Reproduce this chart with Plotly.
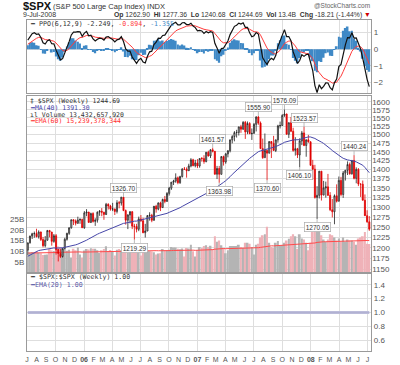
import numpy as np
import pandas as pd
import plotly.graph_objects as go

W, H = 400, 365
X0, X1 = 25, 371
MONO = "DejaVu Sans Mono"
SANS = "Liberation Sans"


def fy(p):
    return 1 - p / H


def fx(p):
    return p / W


# ---------------- data (weekly $SPX) ----------------
# warm-up weeks (Sep 2004 - Jul 1 2005) used only to seed the indicators
warm_close = [1113.63, 1123.92, 1128.55, 1110.11, 1131.50, 1122.14, 1108.20, 1095.74, 1130.20, 1166.17,
              1184.17, 1170.34, 1182.65, 1191.17, 1188.00, 1194.20, 1210.13, 1211.92, 1186.19, 1184.52,
              1167.87, 1171.36, 1203.03, 1205.30, 1201.59, 1211.37, 1222.12, 1200.08, 1189.65, 1171.42,
              1172.92, 1181.20, 1142.62, 1152.12, 1156.85, 1178.84, 1154.05, 1189.28, 1198.78, 1196.02,
              1198.11, 1216.96, 1191.57, 1194.44]
warm_vol = [8.0, 8.5, 8.7, 8.2, 9.0, 8.6, 9.0, 9.2, 9.3, 10.0, 9.8, 9.2, 7.4, 9.6, 9.4, 9.9, 7.9, 6.8, 8.9, 9.2,
            9.4, 9.3, 9.9, 9.4, 9.2, 9.6, 10.0, 9.6, 9.8, 8.4, 9.9, 9.7, 10.4, 10.2, 9.9, 10.3, 10.0, 10.1,
            8.4, 9.9, 9.8, 10.9, 10.9, 8.4]

close = [
    # 2005
    1211.86, 1227.92, 1233.68, 1234.18, 1226.42, 1237.81, 1219.71, 1205.10, 1218.02, 1241.48,
    1237.91, 1215.29, 1228.81, 1195.90, 1186.57, 1179.59, 1198.41, 1220.14, 1234.72, 1248.27,
    1268.25, 1265.08, 1259.37, 1267.32, 1268.66, 1248.29,
    # 2006
    1285.45, 1287.61, 1261.49, 1283.72, 1264.03, 1266.99, 1287.24, 1289.43, 1287.23, 1281.42,
    1307.25, 1302.95, 1294.83, 1295.50, 1289.12, 1311.28, 1310.61, 1325.76, 1291.24, 1267.03,
    1280.16, 1288.22, 1252.30, 1251.54, 1244.50, 1270.20, 1265.48, 1236.20, 1240.29, 1278.55,
    1279.36, 1266.74, 1302.30, 1295.09, 1311.01, 1298.92, 1319.87, 1314.78, 1335.85, 1349.59,
    1365.62, 1368.60, 1377.34, 1364.30, 1380.90, 1401.20, 1400.95, 1396.71, 1409.84, 1427.09,
    1410.76, 1418.30,
    # 2007
    1409.71, 1430.73, 1430.50, 1422.18, 1448.39, 1438.06, 1455.54, 1451.19, 1387.17, 1402.84,
    1386.95, 1436.11, 1420.86, 1443.76, 1452.85, 1484.35, 1494.07, 1505.62, 1505.85, 1522.75,
    1515.73, 1536.34, 1507.67, 1532.91, 1502.56, 1503.35, 1530.44, 1552.50, 1534.10, 1458.95,
    1433.06, 1453.64, 1445.94, 1479.37, 1473.99, 1453.55, 1484.25, 1525.75, 1526.75, 1557.59,
    1561.80, 1500.63, 1535.28, 1509.65, 1453.70, 1458.74, 1440.70, 1481.14, 1504.66, 1467.95,
    1484.46, 1478.49,
    # 2008
    1411.63, 1401.02, 1325.19, 1330.61, 1395.42, 1331.29, 1349.99, 1353.11, 1330.63, 1293.37,
    1288.14, 1329.51, 1315.22, 1370.40, 1332.83, 1390.33, 1397.84, 1413.90, 1388.28, 1425.35,
    1375.93, 1400.38, 1360.68, 1360.03, 1317.93, 1278.38, 1262.90, 1244.69]

high = [
    1212, 1229, 1236, 1239, 1245.86, 1242, 1239, 1226, 1228, 1243, 1243, 1238, 1233, 1233, 1197, 1197,
    1200, 1224, 1236, 1249, 1268.5, 1269, 1269, 1275.8, 1272, 1271,
    1290, 1294.9, 1287.8, 1286, 1287, 1272, 1289, 1292.7, 1297.6, 1288, 1310.9, 1310, 1306, 1311, 1296,
    1318, 1316, 1326.5, 1326.70, 1294, 1282, 1290, 1290, 1258, 1258, 1276, 1280, 1273, 1258, 1280, 1287,
    1283, 1303, 1306, 1312, 1314, 1322, 1329, 1339, 1353, 1366, 1372, 1389.5, 1381, 1383, 1403.8, 1407,
    1406, 1416, 1431.8, 1430, 1427,
    1429, 1431, 1435, 1440, 1449.3, 1453, 1456.9, 1461.57, 1452, 1410, 1410, 1437.8, 1438.9, 1446, 1454,
    1484.8, 1498, 1510, 1513.8, 1523, 1529, 1540, 1540.6, 1539, 1537, 1518, 1534, 1555.1, 1555.90, 1539,
    1488, 1503, 1456, 1480, 1481, 1496, 1485, 1529, 1538.7, 1561, 1576.09, 1563, 1536, 1552.8, 1520,
    1492, 1461, 1488.9, 1510.6, 1523.57, 1485, 1498.9,
    1480, 1427, 1413, 1355, 1396, 1396, 1369, 1367, 1388, 1339, 1321, 1333, 1359.7, 1380.9, 1380,
    1395.9, 1399, 1422.7, 1419.3, 1426, 1440.24, 1406, 1404, 1362, 1370, 1333, 1292, 1277.36]

low = [
    1183.55, 1210, 1221, 1224, 1225, 1222, 1216, 1201, 1201, 1217, 1225, 1205, 1212, 1184, 1168.2, 1176,
    1177, 1196, 1217, 1231, 1246, 1255, 1254, 1258, 1258, 1248,
    1245.7, 1277, 1261, 1260, 1261, 1253, 1261, 1278, 1277, 1268, 1280, 1294, 1291, 1290, 1280, 1284,
    1297, 1304, 1290, 1256, 1245, 1259, 1245, 1219.29, 1237, 1240, 1263, 1235, 1224.5, 1240, 1266, 1262,
    1266, 1286, 1292, 1290, 1298, 1310, 1314, 1330, 1345, 1358, 1364, 1360, 1361, 1378, 1399, 1377.8,
    1396, 1406, 1409, 1406,
    1403.97, 1405, 1422, 1416, 1420, 1436, 1432, 1448, 1386, 1374, 1363.98, 1386, 1411, 1416, 1434,
    1448, 1474, 1480, 1491, 1497, 1505, 1514, 1487, 1501, 1501, 1484, 1503, 1509, 1529, 1458, 1430,
    1433, 1370.60, 1445, 1432, 1453, 1449, 1476, 1518, 1526, 1553, 1500, 1489.6, 1507, 1450, 1439,
    1432, 1406.10, 1469, 1466, 1435.7, 1476,
    1411, 1373, 1322, 1270.05, 1322.4, 1317, 1331, 1324.6, 1329, 1290, 1274, 1256.98, 1312, 1315, 1328,
    1324, 1370, 1385, 1386, 1386, 1373, 1362.5, 1355, 1326.4, 1317, 1278, 1260.7, 1240.68]

# weekly volume, billions
volume = [
    8.6, 9.4, 9.6, 9.5, 9.8, 9.3, 9.0, 8.2, 8.3, 8.4, 11.0, 10.3, 10.1, 11.5, 12.2, 12.0, 11.3, 10.9,
    10.2, 10.7, 7.0, 11.1, 10.5, 11.8, 8.5, 7.0,
    10.3, 11.0, 10.8, 11.4, 11.2, 11.1, 10.4, 9.2, 10.5, 11.0, 12.3, 10.1, 10.6, 9.7, 8.0, 10.7, 11.0,
    10.5, 12.1, 12.6, 9.5, 10.3, 12.0, 13.0, 11.5, 11.3, 8.0, 11.3, 12.0, 10.5, 10.0, 9.9, 9.5, 8.5,
    8.9, 9.0, 11.0, 10.5, 10.5, 10.7, 12.0, 11.7, 11.8, 11.1, 10.9, 11.3, 7.5, 11.5, 11.3, 13.0, 10.0, 7.5,
    10.5, 12.0, 11.5, 12.5, 12.8, 12.0, 12.6, 11.0, 17.0, 14.5, 15.0, 12.8, 11.5, 9.0, 10.5, 12.5, 12.5,
    12.5, 12.5, 13.0, 12.0, 11.5, 14.0, 14.0, 13.5, 12.0, 8.5, 13.0, 13.5, 16.5, 17.5, 18.0, 21.5, 14.0,
    12.0, 11.5, 14.0, 14.8, 12.5, 12.8, 14.0, 15.0, 15.8, 17.0, 18.0, 17.0, 11.0, 18.0, 16.0, 15.5, 14.0, 10.5,
    14.0, 19.0, 21.0, 22.0, 19.5, 17.5, 15.5, 14.5, 15.5, 18.0, 17.5, 16.5, 15.0, 16.0, 14.5, 16.5, 14.5,
    15.5, 15.0, 15.0, 14.5, 13.0, 16.0, 16.5, 17.0, 19.0, 13.5, 13.43]

peak_vals = [1326.70, 1461.57, 1555.90, 1576.09, 1523.57, 1440.24]
trough_vals = [1219.29, 1363.98, 1370.60, 1406.10, 1270.05]

month_letters = ["J", "A", "S", "O", "N", "D", "<b>06</b>", "F", "M", "A", "M", "J",
                 "J", "A", "S", "O", "N", "D", "<b>07</b>", "F", "M", "A", "M", "J",
                 "J", "A", "S", "O", "N", "D", "<b>08</b>", "F", "M", "A", "M", "J", "J"]
price_ticks = list(range(1150, 1601, 25))
vol_ticks = [5, 10, 15, 20, 25]
ppo_ticks = [1, 0, -1, -2]
ratio_ticks = [0.6, 0.8, 1.0, 1.2, 1.4]

# ---------------- indicators ----------------
n_warm = len(warm_close)
all_close = warm_close + close
all_vol = warm_vol + volume
dates_all = pd.date_range("2004-08-30", periods=len(all_close), freq="7D")
dates = dates_all[n_warm:]
opens = all_close[n_warm - 1:-1]

s = pd.Series(all_close)
ema6 = s.ewm(span=6, adjust=False).mean()
ema12 = s.ewm(span=12, adjust=False).mean()
ppo = (ema6 - ema12) / ema12 * 100
sig = ppo.ewm(span=9, adjust=False).mean()
hist = ppo - sig
ma40 = s.rolling(40).mean()
vema = pd.Series(all_vol).ewm(span=60, adjust=False).mean()

ppo_d = ppo.values[n_warm:]
sig_d = sig.values[n_warm:]
hist_d = hist.values[n_warm:]
ma40_d = ma40.values[n_warm:]
vema_d = vema.values[n_warm:]
ratio = np.array(close) / np.array(close)
ratio_ema = pd.Series(ratio).ewm(span=20, adjust=False).mean().values

vol_colors = ["#b4b4b4" if c >= o else "#efb2b8" for c, o in zip(close, opens)]

x_range = ["2005-07-01", "2008-07-13"]
month_vals = pd.date_range("2005-07-01", periods=len(month_letters), freq="MS")

fig = go.Figure()
# PPO panel
fig.add_trace(go.Bar(x=dates, y=hist_d, marker=dict(color="#3f89c6", line=dict(width=0)),
                     xaxis="x", yaxis="y"))
fig.add_trace(go.Scatter(x=dates, y=sig_d, mode="lines", line=dict(color="#ff3b3b", width=1),
                         xaxis="x", yaxis="y"))
fig.add_trace(go.Scatter(x=dates, y=ppo_d, mode="lines", line=dict(color="#111111", width=1.2),
                         xaxis="x", yaxis="y"))
# Volume (base axis of the main panel)
fig.add_trace(go.Bar(x=dates, y=volume, marker=dict(color=vol_colors, line=dict(width=0)),
                     xaxis="x2", yaxis="y2"))
fig.add_trace(go.Scatter(x=dates, y=vema_d, mode="lines", line=dict(color="#ff4a4a", width=1),
                         xaxis="x2", yaxis="y2"))
# Price (overlay, log)
fig.add_trace(go.Scatter(x=dates, y=ma40_d, mode="lines", line=dict(color="#4646a8", width=1),
                         xaxis="x2", yaxis="y4"))
fig.add_trace(go.Candlestick(x=dates, open=opens, high=high, low=low, close=close,
                             increasing=dict(line=dict(color="#222222", width=0.8), fillcolor="#d8d8d8"),
                             decreasing=dict(line=dict(color="#e00000", width=0.8), fillcolor="#e00000"),
                             whiskerwidth=0, xaxis="x2", yaxis="y4"))
# Ratio panel
fig.add_trace(go.Scatter(x=dates, y=ratio, mode="lines", line=dict(color="#bcbcda", width=3),
                         xaxis="x3", yaxis="y3"))
fig.add_trace(go.Scatter(x=dates, y=ratio_ema, mode="lines", line=dict(color="#b0b0d2", width=1),
                         xaxis="x3", yaxis="y3"))

GRID = "#dedede"
BORDER = "#9a9a9a"
TICKFONT = dict(family=SANS, size=8, color="#555555")
minor = dict(dtick="M3", tick0="2005-07-01", showgrid=True, gridcolor=GRID, gridwidth=1)
xcommon = dict(type="date", range=x_range, domain=[fx(X0), fx(X1)], showline=True, mirror=True,
               linecolor=BORDER, linewidth=1, showgrid=False, zeroline=False, minor=minor,
               ticks="", fixedrange=True)

fig.update_layout(
    width=W, height=H, margin=dict(l=0, r=0, t=0, b=0),
    paper_bgcolor="white", plot_bgcolor="white", showlegend=False,
    bargap=0.15, boxgap=0.3,
    xaxis=dict(xcommon, anchor="y", showticklabels=False),
    xaxis2=dict(xcommon, anchor="y2", showticklabels=False, rangeslider=dict(visible=False)),
    xaxis3=dict(xcommon, anchor="y3", tickmode="array", tickvals=month_vals, ticktext=month_letters,
                tickfont=dict(family=SANS, size=7, color="#555555"), showticklabels=True,
                ticklabelstandoff=2),
    yaxis=dict(domain=[fy(94), fy(20)], range=[-2.66, 1.77], side="right", anchor="x",
               tickvals=ppo_ticks, showgrid=True, gridcolor=GRID, zeroline=False, showline=True,
               mirror=True, linecolor=BORDER, tickfont=TICKFONT, ticks=""),
    yaxis2=dict(domain=[fy(274), fy(97)], range=[0, 82.7], side="left", anchor="x2",
                tickvals=vol_ticks, ticktext=[f"{v}B" for v in vol_ticks], showgrid=False,
                zeroline=False, showline=True, mirror=True, linecolor=BORDER, tickfont=TICKFONT,
                ticks=""),
    yaxis4=dict(overlaying="y2", anchor="x2", side="right", type="log",
                range=[np.log10(1143), np.log10(1616.7)], tickvals=price_ticks,
                ticktext=[str(v) for v in price_ticks], showgrid=True, gridcolor=GRID,
                zeroline=False, tickfont=TICKFONT, ticks=""),
    yaxis3=dict(domain=[fy(353), fy(276)], range=[0.447, 1.547], side="right", anchor="x3",
                tickvals=ratio_ticks, ticktext=[f"{v:.1f}" for v in ratio_ticks], showgrid=True,
                gridcolor=GRID, zeroline=False, showline=True, mirror=True, linecolor=BORDER,
                tickfont=TICKFONT, ticks=""),
)

ann = []


def txt(x, y, text, size=7, color="#222222", anchor="left", family=MONO):
    ann.append(dict(x=fx(x), y=fy(y), xref="paper", yref="paper", text=text, showarrow=False,
                    xanchor=anchor, yanchor="middle", font=dict(size=size, color=color, family=family)))


# header
txt(19, 6.5, "<b>$SPX</b>", size=11, color="#111111", family=SANS)
txt(49, 6.5, "(S&P 500 Large Cap Index) INDX", size=7.5, color="#333333", family=SANS)
txt(372, 5.5, "@StockCharts.com", size=6.5, color="#666666", anchor="right", family=SANS)
txt(19, 15, "9-Jul-2008", size=7, color="#333333", family=SANS)
txt(373, 15, "<b>Op</b> 1262.90  <b>Hi</b> 1277.36  <b>Lo</b> 1240.68  <b>Cl</b> 1244.69  "
             "<b>Vol</b> 13.4B  <b>Chg</b> -18.21 (-1.44%) <span style='color:#d00000'>▼</span>",
    size=6.8, color="#333333", anchor="right", family=SANS)
# PPO legend
txt(26, 24.5, "<b>━</b> PPO(6,12,9) -2.249, <span style='color:#ff3b3b'>-0.894</span>, "
              "<span style='color:#3f89c6'>-1.355</span>", size=6.6, color="#333333")
# Main legend
txt(26, 102, "‡ $SPX (Weekly) 1244.69", size=6.5, color="#333333")
txt(26, 108.7, "<span style='color:#4646a8'>━MA(40) 1391.30</span>", size=6.5)
txt(26, 115.4, "ıl Volume 13,432,657,920", size=6.5, color="#333333")
txt(26, 122.1, "<span style='color:#ff3030'>━EMA(60) 15,239,378,344</span>", size=6.5)
# Ratio legend
txt(26, 278.5, "━ $SPX:$SPX (Weekly) 1.00", size=6.6, color="#333333")
txt(26, 287, "<span style='color:#5a5aa8'>━EMA(20) 1.00</span>", size=6.6)

# peak / trough value labels
for v in peak_vals:
    i = high.index(v)
    ann.append(dict(x=dates[i], y=np.log10(v), xref="x2", yref="y4", text=f"{v:.2f}",
                    showarrow=True, ax=0, ay=-9, arrowhead=0, arrowwidth=0.8, arrowcolor="#aaaaaa",
                    bordercolor="#aaaaaa", borderwidth=0.7, borderpad=1, bgcolor="white",
                    font=dict(family=SANS, size=6.5, color="#333333")))
for v in trough_vals:
    i = low.index(v)
    ann.append(dict(x=dates[i], y=np.log10(v), xref="x2", yref="y4", text=f"{v:.2f}",
                    showarrow=True, ax=0, ay=8, arrowhead=0, arrowwidth=0.8, arrowcolor="#aaaaaa",
                    bordercolor="#aaaaaa", borderwidth=0.7, borderpad=1, bgcolor="white",
                    font=dict(family=SANS, size=6.5, color="#333333")))

fig.update_layout(annotations=ann)
fig.write_html("out.html", config={"displayModeBar": False},
               post_script="document.body.style.margin='0px';")
